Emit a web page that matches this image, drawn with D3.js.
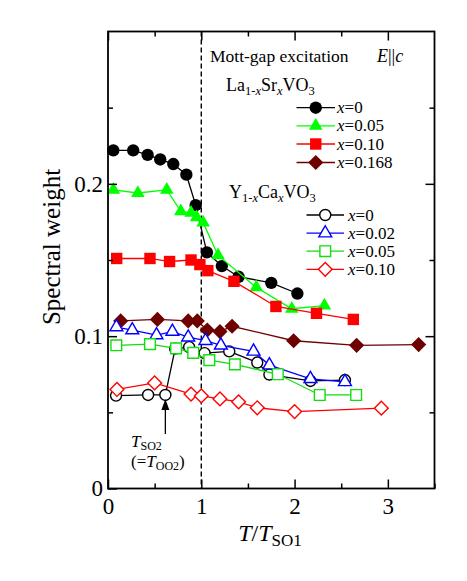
<!DOCTYPE html>
<html><head><meta charset="utf-8">
<script src="https://cdn.jsdelivr.net/npm/d3@7/dist/d3.min.js"></script>
<style>body{margin:0;background:#fff}svg{display:block;font-family:"Liberation Serif","Times New Roman",serif}</style>
</head><body><svg id="c" width="467" height="581"></svg>
<script>
// La1-xSrxVO3
const laX0_t = [0.057,0.27,0.425,0.56,0.70,0.84,0.94,1.06,1.22,1.40,1.75,2.03];
const laX0_w = [0.222,0.222,0.219,0.216,0.213,0.206,0.186,0.155,0.146,0.139,0.135,0.128];
const laX005_t = [0.057,0.32,0.63,0.78,0.89,0.95,1.02,1.18,1.59,1.97,2.32];
const laX005_w = [0.196,0.194,0.196,0.182,0.181,0.178,0.1745,0.153,0.132,0.118,0.120];
const laX010_t = [0.093,0.45,0.66,0.89,0.985,1.07,1.35,1.80,2.235,2.63];
const laX010_w = [0.151,0.151,0.149,0.150,0.147,0.143,0.136,0.1195,0.115,0.111];
const laX0168_t = [0.136,0.53,0.86,0.957,1.064,1.20,1.33,1.99,2.665,3.33];
const laX0168_w = [0.110,0.111,0.110,0.110,0.104,0.103,0.1065,0.097,0.094,0.0945];
// Y1-xCaxVO3
const yX0_t = [0.086,0.43,0.615,0.72,0.87,1.035,1.30,1.60,1.73,2.17,2.54];
const yX0_w = [0.061,0.0614,0.0614,0.0918,0.0928,0.0889,0.090,0.0827,0.0748,0.0706,0.0712];
const yX002_t = [0.09,0.26,0.52,0.69,0.86,1.045,1.21,1.56,1.73,2.17,2.54];
const yX002_w = [0.106,0.104,0.1007,0.103,0.0993,0.097,0.094,0.090,0.081,0.072,0.070];
const yX005_t = [0.089,0.45,0.73,0.914,1.086,1.36,1.82,2.27,2.66];
const yX005_w = [0.094,0.0948,0.092,0.089,0.0843,0.0815,0.075,0.0614,0.0614];
const yX010_t = [0.096,0.50,0.89,1.0,1.20,1.40,1.60,2.0,2.93];
const yX010_w = [0.065,0.0693,0.062,0.0608,0.0588,0.0569,0.053,0.0505,0.0527];

const xTickLabels = ["0","1","2","3"];
const yTickLabels = ["0","0.1","0.2"];
const laLegend = ["0","0.05","0.10","0.168"];
const yLegend = ["0","0.02","0.05","0.10"];

const svg = d3.select("#c");
const L=108, R=434.5, T=31.5, B=488.5;
const x = d3.scaleLinear().domain([0,3.5]).range([L,R]);
const y = d3.scaleLinear().domain([0,0.3]).range([B,T]);

const series = [
  {t:laX0_t,w:laX0_w,color:"#000",shape:"circle",fill:true,size:120},
  {t:laX005_t,w:laX005_w,color:"#00ff00",shape:"triangle",fill:true,size:80},
  {t:laX010_t,w:laX010_w,color:"#ff0000",shape:"square",fill:true,size:130},
  {t:laX0168_t,w:laX0168_w,color:"#6e0000",shape:"diamond",fill:true,size:115},
  {t:yX0_t,w:yX0_w,color:"#000",shape:"circle",fill:false,size:95},
  {t:yX002_t,w:yX002_w,color:"#0000ff",shape:"triangle",fill:false,size:72},
  {t:yX005_t,w:yX005_w,color:"#11dd11",shape:"square",fill:false,size:115},
  {t:yX010_t,w:yX010_w,color:"#ff0000",shape:"diamond",fill:false,size:95}
];
const symType = {circle:d3.symbolCircle,triangle:d3.symbolTriangle,square:d3.symbolSquare,diamond:d3.symbolSquare};
function marker(g,s,cx,cy){
  g.append("path").attr("d",d3.symbol().type(symType[s.shape]).size(s.size)())
   .attr("transform",`translate(${cx},${cy})`+(s.shape==="diamond"?" rotate(45)":""))
   .attr("fill",s.fill?s.color:"#fff").attr("stroke",s.color).attr("stroke-width",s.fill?0:1.4);
}

// dashed line at T/TSO1 = 1
svg.append("line").attr("x1",x(1)).attr("x2",x(1)).attr("y1",T).attr("y2",B)
  .attr("stroke","#000").attr("stroke-width",1.4).attr("stroke-dasharray","5,3");

// series
const line = d3.line();
series.forEach(s=>{
  const pts = s.t.map((v,i)=>[x(v),y(s.w[i])]);
  svg.append("path").attr("d",line(pts)).attr("fill","none").attr("stroke",s.color).attr("stroke-width",1.3);
  const g = svg.append("g");
  pts.forEach(p=>marker(g,s,p[0],p[1]));
});

// axes
const fs = 23;
const xb = svg.append("g").attr("transform",`translate(0,${B})`)
  .call(d3.axisBottom(x).tickValues([0,1,2,3]).tickFormat((d,i)=>xTickLabels[i]).tickSize(-9).tickPadding(9));
const xt = svg.append("g").attr("transform",`translate(0,${T})`)
  .call(d3.axisTop(x).tickValues([0,1,2,3]).tickFormat("").tickSize(-9));
const xbm = svg.append("g").attr("transform",`translate(0,${B})`)
  .call(d3.axisBottom(x).tickValues([0.5,1.5,2.5,3.5]).tickFormat("").tickSize(-5));
const xtm = svg.append("g").attr("transform",`translate(0,${T})`)
  .call(d3.axisTop(x).tickValues([0.5,1.5,2.5]).tickFormat("").tickSize(-5));
const yl = svg.append("g").attr("transform",`translate(${L},0)`)
  .call(d3.axisLeft(y).tickValues([0,0.1,0.2]).tickFormat((d,i)=>yTickLabels[i]).tickSize(-9).tickPadding(5));
const yr = svg.append("g").attr("transform",`translate(${R},0)`)
  .call(d3.axisRight(y).tickValues([0.1,0.2]).tickFormat("").tickSize(-9));
const ylm = svg.append("g").attr("transform",`translate(${L},0)`)
  .call(d3.axisLeft(y).tickValues([0.05,0.15,0.25]).tickFormat("").tickSize(-5));
const yrm = svg.append("g").attr("transform",`translate(${R},0)`)
  .call(d3.axisRight(y).tickValues([0.05,0.15,0.25]).tickFormat("").tickSize(-5));
[xb,xt,xbm,xtm,yl,yr,ylm,yrm].forEach(g=>{
  g.select(".domain").remove();
  g.selectAll("line").attr("stroke","#000").attr("stroke-width",1.5);
  g.selectAll("text").attr("font-family","Liberation Serif").attr("font-size",fs).attr("fill","#000");
});
svg.append("rect").attr("x",L).attr("y",T).attr("width",R-L).attr("height",B-T)
  .attr("fill","none").attr("stroke","#000").attr("stroke-width",1.8);

// axis titles
const xt1 = svg.append("text").attr("x",270).attr("y",541).attr("text-anchor","middle").attr("font-size",24);
xt1.append("tspan").attr("font-style","italic").text("T");
xt1.append("tspan").text("/");
xt1.append("tspan").attr("font-style","italic").text("T");
xt1.append("tspan").attr("font-size",17).attr("dy",5).text("SO1");
svg.append("text").attr("transform","translate(60,247) rotate(-90)").attr("text-anchor","middle")
  .attr("font-size",25).text("Spectral weight");

// header texts
svg.append("text").attr("x",210).attr("y",62).attr("font-size",17.5).text("Mott-gap excitation");
const ec = svg.append("text").attr("x",377).attr("y",62).attr("font-size",18);
ec.append("tspan").attr("font-style","italic").text("E");
ec.append("tspan").text("||");
ec.append("tspan").attr("font-style","italic").text("c");

// parts: [text, sub(bool), italic(bool)]
function compound(xp,yp,parts){
  const t = svg.append("text").attr("x",xp).attr("y",yp).attr("font-size",18);
  let lvl = 0;
  parts.forEach(p=>{
    const ts = t.append("tspan").text(p[0]);
    const target = p[1]?4:0;
    if(target!==lvl){ ts.attr("dy",target-lvl); lvl = target; }
    if(p[1]) ts.attr("font-size",12.5);
    if(p[2]) ts.attr("font-style","italic");
  });
}
compound(226,91,[["La"],["1-",true],["x",true,true],["Sr"],["x",true,true],["VO"],["3",true]]);
compound(229,198,[["Y"],["1-",true],["x",true,true],["Ca"],["x",true,true],["VO"],["3",true]]);

// legends
function legend(x1,x2,ty,rows,ss,labels){
  rows.forEach((ry,i)=>{
    const s = ss[i];
    svg.append("line").attr("x1",x1).attr("x2",x2).attr("y1",ry).attr("y2",ry).attr("stroke",s.color).attr("stroke-width",1.3);
    const g = svg.append("g");
    marker(g,s,(x1+x2)/2,ry);
    const t = svg.append("text").attr("x",ty).attr("y",ry+5.5).attr("font-size",17);
    t.append("tspan").attr("font-style","italic").text("x");
    t.append("tspan").text("="+labels[i]);
  });
}
legend(296.5,335,337,[107.7,125.8,144,162.5],series.slice(0,4),laLegend);
legend(306.5,344,348,[215,233.2,251.2,269.3],series.slice(4,8),yLegend);

// annotation arrow
const ax = x(yX0_t[2]);
svg.append("line").attr("x1",ax).attr("x2",ax).attr("y1",434).attr("y2",408).attr("stroke","#000").attr("stroke-width",1.3);
svg.append("path").attr("d",`M${ax},399 L${ax-4},410 L${ax+4},410 Z`).attr("fill","#000");
const a1 = svg.append("text").attr("x",131).attr("y",447).attr("font-size",17);
a1.append("tspan").attr("font-style","italic").text("T");
a1.append("tspan").attr("font-size",12).attr("dy",3).text("SO2");
const a2 = svg.append("text").attr("x",131).attr("y",467).attr("font-size",17);
a2.append("tspan").text("(=");
a2.append("tspan").attr("font-style","italic").text("T");
a2.append("tspan").attr("font-size",12).attr("dy",3).text("OO2");
a2.append("tspan").attr("dy",-3).text(")");
</script></body></html>
